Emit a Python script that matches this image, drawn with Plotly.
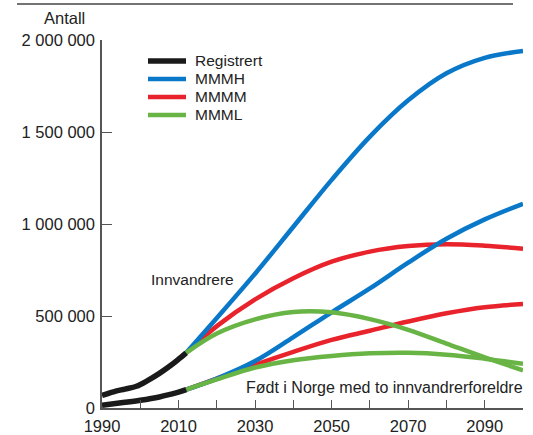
import plotly.graph_objects as go

# registrert (historical)
reg_years = [1990, 1993, 1996, 1999, 2002, 2005, 2008, 2010, 2012]
reg_innv = [68000, 88000, 103000, 118000, 150000, 188000, 232000, 265000, 300000]
reg_years_b = [1990, 1995, 2000, 2005, 2008, 2010, 2012]
reg_norge = [15000, 28000, 42000, 60000, 75000, 86000, 100000]

# projections
proj_years = [2012, 2020, 2030, 2040, 2050, 2060, 2070, 2080, 2090, 2100]
innv_mmmh = [300000, 489000, 730000, 985000, 1240000, 1475000, 1672000, 1819000, 1903000, 1940000]
innv_mmmm = [300000, 445000, 590000, 705000, 795000, 850000, 880000, 890000, 882000, 866000]
innv_mmml = [300000, 405000, 482000, 522000, 520000, 483000, 425000, 350000, 275000, 205000]
norge_mmmh = [100000, 160000, 255000, 385000, 520000, 650000, 790000, 920000, 1025000, 1110000]
norge_mmmm = [100000, 160000, 235000, 305000, 370000, 420000, 470000, 515000, 548000, 565000]
norge_mmml = [100000, 155000, 220000, 260000, 283000, 297000, 300000, 290000, 268000, 240000]

x_tickvals = list(range(1990, 2101, 10))
x_ticktext = ['1990', '', '2010', '', '2030', '', '2050', '', '2070', '', '2090', '']
y_tickvals = [0, 500000, 1000000, 1500000, 2000000]

legend_names = ['Registrert', 'MMMH', 'MMMM', 'MMML']

BLACK = '#1a1a1a'
BLUE = '#0a78c8'
RED = '#e8232b'
GREEN = '#68b445'
FONT = 'Liberation Sans, Arial, sans-serif'

fig = go.Figure()

def add_line(x, y, color, width):
    fig.add_trace(go.Scatter(x=x, y=y, mode='lines', showlegend=False, hoverinfo='skip',
                             line=dict(color=color, width=width, shape='spline', smoothing=1.0)))

for ys, col in [(innv_mmmm, RED), (norge_mmmm, RED), (innv_mmmh, BLUE), (norge_mmmh, BLUE),
                (innv_mmml, GREEN), (norge_mmml, GREEN)]:
    add_line(proj_years, ys, col, 4.5)
add_line(reg_years, reg_innv, BLACK, 5.5)
add_line(reg_years_b, reg_norge, BLACK, 5.5)

# legend drawn by hand so the spacing matches
shapes = []
annotations = []
leg_colors = [BLACK, BLUE, RED, GREEN]
for i, (name, col) in enumerate(zip(legend_names, leg_colors)):
    py = (408 - (61 + 18 * i)) / 368
    shapes.append(dict(type='line', xref='paper', yref='paper', x0=(148 - 102) / 421, x1=(186 - 102) / 421,
                       y0=py, y1=py, line=dict(color=col, width=5.5 if i == 0 else 4.5)))
    annotations.append(dict(xref='paper', yref='paper', x=(193 - 102) / 421, y=py, text=name,
                            showarrow=False, xanchor='left', yanchor='middle',
                            font=dict(size=15.5, color='#222', family=FONT)))

# rule at top
shapes.append(dict(type='line', xref='paper', yref='paper', x0=(17 - 102) / 421, x1=(513 - 102) / 421,
                   y0=(408 - 4) / 368, y1=(408 - 4) / 368, line=dict(color='#444', width=1.5)))

annotations += [
    dict(xref='paper', yref='paper', x=(64 - 102) / 421, y=(408 - 18) / 368, text='Antall',
         showarrow=False, xanchor='center', yanchor='middle', font=dict(size=16.5, color='#222', family=FONT)),
    dict(x=2002.4, y=696000, text='Innvandrere', showarrow=False, xanchor='left', yanchor='middle',
         font=dict(size=15.5, color='#222', family=FONT)),
    dict(x=2100, y=114000, text='Født i Norge med to innvandrerforeldre', showarrow=False,
         xanchor='right', yanchor='middle', xshift=2, font=dict(size=16, color='#222', family=FONT)),
]

fig.update_layout(
    width=533, height=435,
    margin=dict(l=102, r=10, t=40, b=27),
    paper_bgcolor='white', plot_bgcolor='white',
    separators='. ',
    shapes=shapes, annotations=annotations,
    font=dict(family=FONT, size=16, color='#222'),
)
fig.update_xaxes(range=[1990, 2100], tickvals=x_tickvals, ticktext=x_ticktext, automargin=False,
                 ticks='inside', ticklen=8, tickcolor='#555', tickwidth=1.2, ticklabelstandoff=2,
                 showline=True, linecolor='#555', linewidth=1.5, showgrid=False, zeroline=False,
                 tickfont=dict(size=16.5, family=FONT, color='#222'))
fig.update_yaxes(range=[0, 2000000], tickvals=y_tickvals, tickformat=',d', automargin=False,
                 ticks='inside', ticklen=10, tickcolor='#555', tickwidth=1.2, ticklabelstandoff=2,
                 showline=True, linecolor='#555', linewidth=1.5, showgrid=False, zeroline=False,
                 tickfont=dict(size=16.5, family=FONT, color='#222'))

# page has a default 8px body margin; drop it so the figure fills the window
fig.write_html('out.html', config={'displayModeBar': False},
               post_script="document.body.style.margin='0px';")
